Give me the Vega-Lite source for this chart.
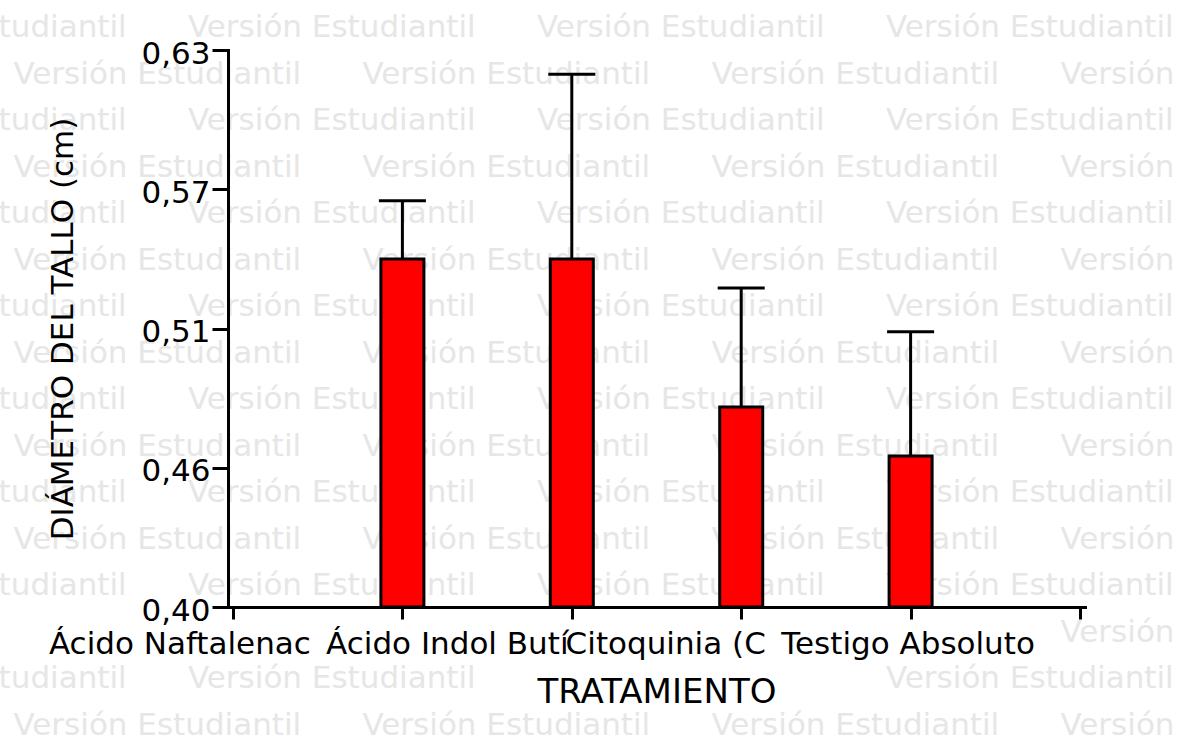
{
  "$schema": "https://vega.github.io/schema/vega-lite/v6.json",
  "width": 857,
  "height": 557,
  "autosize": {"type": "none"},
  "padding": {"left": 228, "top": 50, "right": 100, "bottom": 133},
  "background": "white",
  "config": {"view": {"stroke": null}},
  "datasets": {
    "bars": [
      {"pos": 1, "label": "Ácido Naftalenac", "mean": 0.5437, "upper": 0.5678},
      {"pos": 2, "label": "Ácido Indol Butí", "mean": 0.5437, "upper": 0.6200},
      {"pos": 3, "label": "Citoquinia (C", "mean": 0.4826, "upper": 0.5317},
      {"pos": 4, "label": "Testigo Absoluto", "mean": 0.4624, "upper": 0.5137}
    ],
    "watermark": [
      {"r": 0, "c": [0, 2, 4, 6]},
      {"r": 1, "c": [1, 3, 5, 7]},
      {"r": 2, "c": [0, 2, 4, 6]},
      {"r": 3, "c": [1, 3, 5, 7]},
      {"r": 4, "c": [0, 2, 4, 6]},
      {"r": 5, "c": [1, 3, 5, 7]},
      {"r": 6, "c": [0, 2, 4, 6]},
      {"r": 7, "c": [1, 3, 5, 7]},
      {"r": 8, "c": [0, 2, 4, 6]},
      {"r": 9, "c": [1, 3, 5, 7]},
      {"r": 10, "c": [0, 2, 4, 6]},
      {"r": 11, "c": [1, 3, 5, 7]},
      {"r": 12, "c": [0, 2, 4, 6]},
      {"r": 13, "c": [7]},
      {"r": 14, "c": [0, 2, 6]},
      {"r": 15, "c": [1, 3, 5, 7]}
    ]
  },
  "layer": [
    {
      "data": {"name": "watermark"},
      "transform": [{"flatten": ["c"]}],
      "mark": {"type": "text", "text": "Versión Estudiantil", "align": "left", "baseline": "middle", "font": "DejaVu Sans", "fontSize": 31, "fill": "#e6e6e6"},
      "encoding": {
        "x": {"field": "c", "type": "quantitative", "scale": {"domain": [0, 7], "range": [-389, 832.5], "nice": false, "zero": false}, "axis": null},
        "y": {"field": "r", "type": "quantitative", "scale": {"domain": [0, 15], "range": [-22, 676], "nice": false, "zero": false}, "axis": null}
      }
    },
    {
      "data": {"name": "bars"},
      "encoding": {
        "x": {
          "field": "pos",
          "type": "quantitative",
          "scale": {"domain": [0, 5], "nice": false, "zero": false},
          "title": "TRATAMIENTO",
          "axis": {
            "values": [0, 1, 2, 3, 4, 5],
            "labelExpr": "datum.value == 1 ? 'Ácido Naftalenac' : datum.value == 2 ? 'Ácido Indol Butí' : datum.value == 3 ? 'Citoquinia (C' : datum.value == 4 ? 'Testigo Absoluto' : ''",
            "grid": false,
            "domainColor": "black",
            "domainWidth": 3,
            "domainCap": "square",
            "tickColor": "black",
            "tickWidth": 3,
            "tickSize": 12,
            "labelFont": "DejaVu Sans",
            "labelFontSize": 31,
            "labelColor": "black",
            "labelPadding": 34,
            "labelBaseline": "alphabetic",
            "labelAngle": 0,
            "labelLimit": 0,
            "labelOverlap": false,
            "labelBound": false,
            "labelFlush": false,
            "labelOffset": {"expr": "datum.value == 1 ? -223 : datum.value == 2 ? -125 : datum.value == 3 ? -76 : -3"},
            "titleFont": "DejaVu Sans",
            "titleFontSize": 34,
            "titleFontWeight": "normal",
            "titleColor": "black",
            "titleY": 95,
            "titleBaseline": "alphabetic",
            "zindex": 1
          }
        }
      },
      "layer": [
        {
          "mark": {"type": "rule", "stroke": "black", "strokeWidth": 3},
          "encoding": {
            "y": {
              "field": "mean",
              "type": "quantitative",
              "scale": {"domain": [0.4, 0.63], "nice": false, "zero": false},
              "title": "DIÁMETRO DEL TALLO (cm)",
              "axis": {
                "values": [0.4, 0.4575, 0.515, 0.5725, 0.63],
                "labelExpr": "replace(format(datum.value - 0.0001, '.2f'), '.', ',')",
                "grid": false,
                "domainColor": "black",
                "domainWidth": 3,
                "domainCap": "square",
                "tickColor": "black",
                "tickWidth": 3,
                "tickSize": 16,
                "labelFont": "DejaVu Sans",
                "labelFontSize": 31,
                "labelColor": "black",
                "labelPadding": 2,
                "labelBaseline": "middle",
                "labelOffset": 4,
                "labelFlush": false,
                "labelOverlap": false,
                "labelBound": false,
                "titleFont": "DejaVu Sans",
                "titleFontSize": 31,
                "titleFontWeight": "normal",
                "titleColor": "black",
                "titleX": -156,
                "titleY": 278.5,
                "titleAngle": -90,
                "titleAlign": "center",
                "titleBaseline": "alphabetic",
                "zindex": 1
              }
            },
            "y2": {"field": "upper"}
          }
        },
        {
          "mark": {"type": "bar", "orient": "vertical", "fill": "#ff0000", "stroke": "black", "strokeWidth": 3, "size": 43},
          "encoding": {
            "y": {"field": "mean", "type": "quantitative"},
            "y2": {"datum": 0.4}
          }
        },
        {
          "mark": {"type": "tick", "orient": "horizontal", "size": 47, "thickness": 3, "color": "black", "opacity": 1},
          "encoding": {
            "y": {"field": "upper", "type": "quantitative"}
          }
        }
      ]
    }
  ],
  "resolve": {"scale": {"x": "independent", "y": "independent"}}
}
